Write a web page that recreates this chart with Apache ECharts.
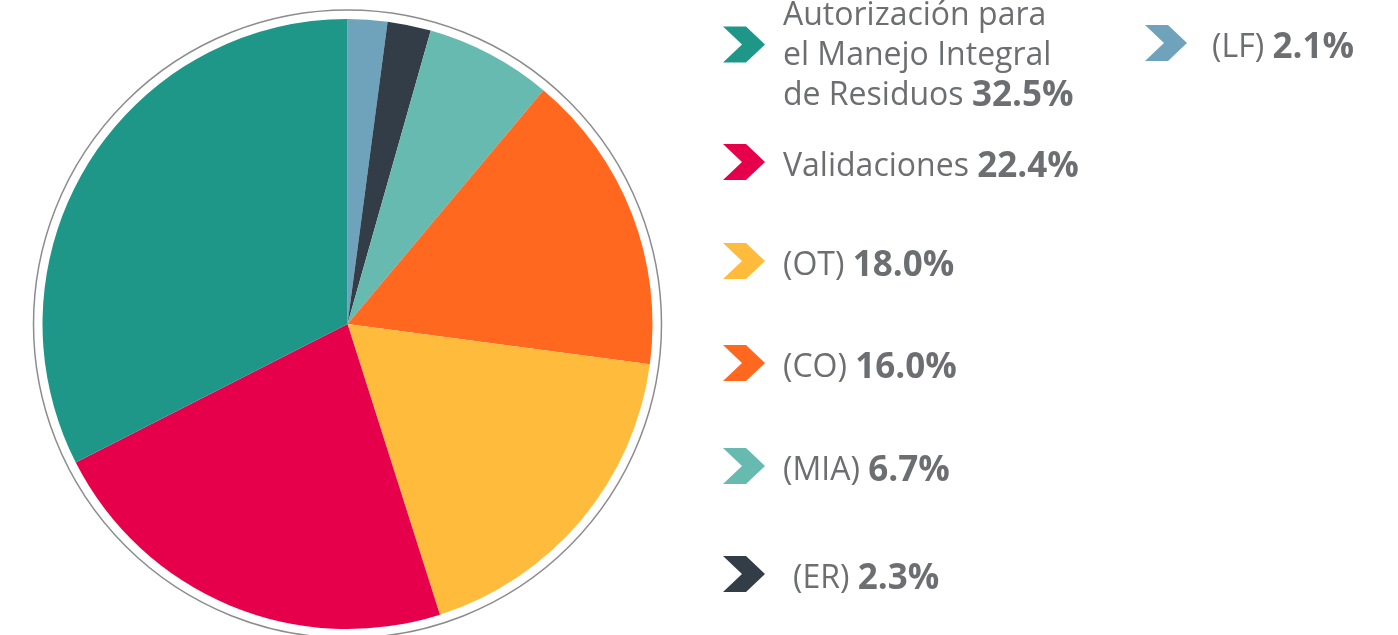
<!DOCTYPE html>
<html>
<head>
<meta charset="utf-8">
<script src="https://cdn.jsdelivr.net/npm/echarts@6/dist/echarts.min.js"></script>
<style>
  html, body { margin: 0; padding: 0; background: #fff; }
  #chart { width: 1398px; height: 635px; }
</style>
</head>
<body>
<div id="chart"></div>
<script>
// data, clockwise from 12 o'clock
var names = ["(LF)", "(ER)", "(MIA)", "(CO)", "(OT)", "Validaciones", "Autorización para\nel Manejo Integral\nde Residuos"];
var values = [2.1, 2.3, 6.7, 16.0, 18.0, 22.4, 32.5];
var colors = ["#6ea3bb", "#323d48", "#67bab0", "#ff681e", "#ffbb3b", "#e6004b", "#1e9789"];

// legend placement: [name index, left, top, icon drop below text centre, text padding-left]
var legendPos = [
  [6, 723, 0, 23, 13],
  [5, 723, 144, 10, 13],
  [4, 723, 243, 10, 13],
  [3, 723, 345, 10, 13],
  [2, 723, 448, 10, 13],
  [1, 723, 556, 10, 23],
  [0, 1145, 25, 10, 20]
];

// chevron; an empty tail below it pushes the text centre down
function chevron(extra) {
  var h = 36 + extra;
  return "path://M0,0 L23,0 L42,18 L23,36 L0,36 L19,18 Z M0," + h + " L0.01," + h;
}

var myChart = echarts.init(document.getElementById("chart"));

var pieData = names.map(function (n, i) {
  return { name: n, value: values[i], itemStyle: { color: colors[i] } };
});

var legends = legendPos.map(function (p) {
  var lh = names[p[0]].indexOf("\n") >= 0 ? 40 : 42;
  return {
    data: [names[p[0]]],
    left: p[1],
    top: p[2],
    orient: "vertical",
    padding: 0,
    itemWidth: 42,
    itemHeight: 36 + p[3],
    icon: chevron(p[3]),
    selectedMode: false,
    formatter: function (name) {
      var v = values[names.indexOf(name)].toFixed(1) + "%";
      return "{n|" + name + " }{v|" + v + "}";
    },
    textStyle: {
      padding: [0, 0, 0, p[4]],
      rich: {
        n: { fontFamily: "Open Sans", fontSize: 32, color: "#6d6e71", lineHeight: lh },
        v: { fontFamily: "Open Sans", fontSize: 35, fontWeight: "bold", color: "#6d6e71", lineHeight: lh }
      }
    }
  };
});

var option = {
  backgroundColor: "#fff",
  animation: false,
  legend: legends,
  series: [
    {
      // outer thin ring
      type: "pie",
      center: [347.5, 324],
      radius: [314, 314],
      silent: true,
      label: { show: false },
      labelLine: { show: false },
      itemStyle: { color: "transparent", borderColor: "#8c8c8c", borderWidth: 1.5 },
      data: [{ name: "ring", value: 1 }]
    },
    {
      type: "pie",
      center: [347.5, 324],
      radius: 305,
      startAngle: 90,
      clockwise: true,
      silent: true,
      label: { show: false },
      labelLine: { show: false },
      itemStyle: { borderWidth: 0 },
      data: pieData
    }
  ]
};

myChart.setOption(option);
</script>
</body>
</html>
